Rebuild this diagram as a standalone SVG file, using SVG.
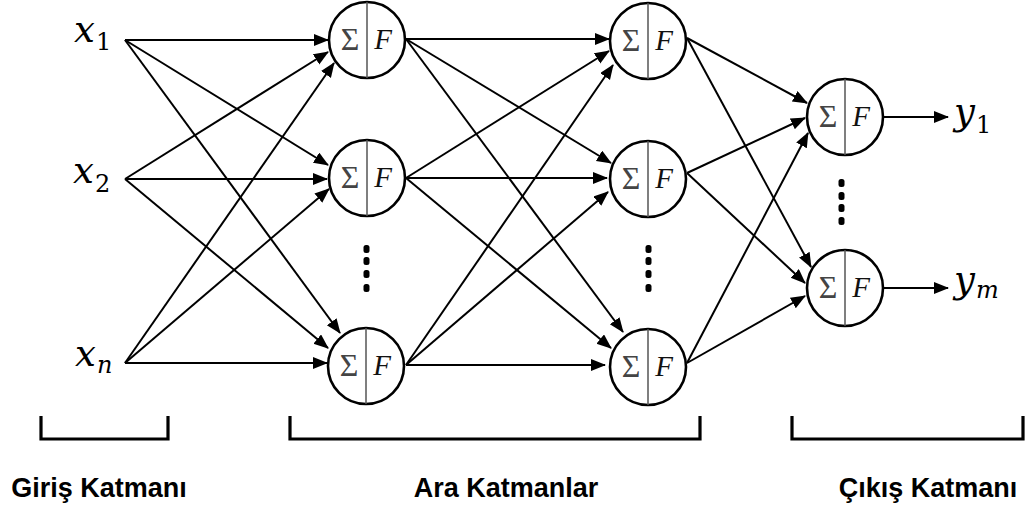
<svg xmlns="http://www.w3.org/2000/svg" width="1026" height="510" viewBox="0 0 1026 510">
  <style>
    .node circle { fill: #fff; stroke: #000; stroke-width: 2.6; }
    .node line { stroke: #555; stroke-width: 1.5; }
    .sig { font-family: "Liberation Serif", serif; font-size: 32px; fill: #444; text-anchor: middle; }
    .fn { font-family: "Liberation Serif", serif; font-size: 29px; font-style: italic; fill: #111; text-anchor: middle; }
    .var { font-family: "DejaVu Serif", serif; font-size: 37px; font-style: italic; fill: #000; }
    .sub { font-size: 24px; }
    .subn { font-style: normal; }
    #edges line { stroke: #000; stroke-width: 2; marker-end: url(#arrow); }
    .dots rect { fill: #000; }
    .bracket { fill: none; stroke: #000; stroke-width: 3.2; }
    .caption { font-family: "Liberation Sans", Arial, sans-serif; font-weight: bold; font-size: 27px; fill: #000; text-anchor: middle; }
  </style>
  <defs>
    <marker id="arrow" markerUnits="userSpaceOnUse" markerWidth="16" markerHeight="14" refX="14" refY="6" orient="auto">
      <path d="M0,0 L15,6 L0,12 Z" fill="#000"/>
    </marker>
  </defs>

  <rect width="1026" height="510" fill="#fff"/>

  <!-- connectors -->
  <g id="edges">
    <!-- inputs to first hidden layer -->
    <line x1="125" y1="40" x2="328" y2="40"/>
    <line x1="125" y1="40" x2="328" y2="165"/>
    <line x1="125" y1="40" x2="340" y2="333"/>
    <line x1="125" y1="179" x2="328" y2="52"/>
    <line x1="125" y1="179" x2="327" y2="179"/>
    <line x1="125" y1="179" x2="328" y2="348"/>
    <line x1="125" y1="363" x2="334" y2="63"/>
    <line x1="125" y1="363" x2="329" y2="189"/>
    <line x1="125" y1="363" x2="327" y2="363"/>
    <!-- first hidden layer to second hidden layer -->
    <line x1="406" y1="39" x2="609" y2="39"/>
    <line x1="406" y1="39" x2="611" y2="163"/>
    <line x1="406" y1="39" x2="623" y2="332"/>
    <line x1="406" y1="178" x2="609" y2="51"/>
    <line x1="406" y1="178" x2="607" y2="178"/>
    <line x1="406" y1="178" x2="611" y2="348"/>
    <line x1="406" y1="365" x2="613" y2="65"/>
    <line x1="406" y1="365" x2="608" y2="192"/>
    <line x1="406" y1="365" x2="605" y2="365"/>
    <!-- second hidden layer to output layer -->
    <line x1="687" y1="38" x2="807" y2="103"/>
    <line x1="687" y1="38" x2="811" y2="267"/>
    <line x1="687" y1="173" x2="805" y2="118"/>
    <line x1="687" y1="173" x2="805" y2="283"/>
    <line x1="687" y1="363" x2="808" y2="133"/>
    <line x1="687" y1="363" x2="805" y2="296"/>
    <!-- outputs -->
    <line x1="883" y1="117" x2="948" y2="117"/>
    <line x1="883" y1="288" x2="948" y2="288"/>
  </g>

  <!-- input labels -->
  <g id="in-x1"><text class="var" x="74" y="42">x<tspan class="sub subn" dx="1" dy="8">1</tspan></text></g>
  <g id="in-x2"><text class="var" x="73" y="183">x<tspan class="sub subn" dx="1" dy="9">2</tspan></text></g>
  <g id="in-xn"><text class="var" x="75" y="366">x<tspan class="sub" dx="1" dy="7">n</tspan></text></g>

  <!-- first hidden layer -->
  <g id="h1-1" class="node"><circle cx="367" cy="40" r="38"/><line x1="367" y1="2" x2="367" y2="78"/><text class="sig" x="350" y="50">Σ</text><text class="fn" x="383" y="49">F</text></g>
  <g id="h1-2" class="node"><circle cx="367" cy="178" r="38"/><line x1="367" y1="140" x2="367" y2="216"/><text class="sig" x="350" y="188">Σ</text><text class="fn" x="383" y="187">F</text></g>
  <g id="h1-n" class="node"><circle cx="366" cy="366" r="38"/><line x1="366" y1="328" x2="366" y2="404"/><text class="sig" x="349" y="376">Σ</text><text class="fn" x="382" y="375">F</text></g>

  <!-- second hidden layer -->
  <g id="h2-1" class="node"><circle cx="648" cy="41" r="38"/><line x1="648" y1="3" x2="648" y2="79"/><text class="sig" x="631" y="51">Σ</text><text class="fn" x="664" y="50">F</text></g>
  <g id="h2-2" class="node"><circle cx="648" cy="179" r="38"/><line x1="648" y1="141" x2="648" y2="217"/><text class="sig" x="631" y="189">Σ</text><text class="fn" x="664" y="188">F</text></g>
  <g id="h2-n" class="node"><circle cx="648" cy="367" r="38"/><line x1="648" y1="329" x2="648" y2="405"/><text class="sig" x="631" y="377">Σ</text><text class="fn" x="664" y="376">F</text></g>

  <!-- output layer -->
  <g id="out-1" class="node"><circle cx="845" cy="117" r="38"/><line x1="845" y1="79" x2="845" y2="155"/><text class="sig" x="828" y="127">Σ</text><text class="fn" x="861" y="126">F</text></g>
  <g id="out-m" class="node"><circle cx="845" cy="288" r="38"/><line x1="845" y1="250" x2="845" y2="326"/><text class="sig" x="828" y="298">Σ</text><text class="fn" x="861" y="297">F</text></g>

  <!-- output labels -->
  <g id="lbl-y1"><text class="var" x="954" y="124">y<tspan class="sub subn" dx="1" dy="9">1</tspan></text></g>
  <g id="lbl-ym"><text class="var" x="954" y="292">y<tspan class="sub" dx="1" dy="6">m</tspan></text></g>

  <!-- vertical ellipses -->
  <g class="dots">
    <rect x="363.5" y="245" width="6" height="8" rx="2.5"/>
    <rect x="363.5" y="257" width="6" height="8" rx="2.5"/>
    <rect x="363.5" y="270" width="6" height="8" rx="2.5"/>
    <rect x="363.5" y="284" width="6" height="8" rx="2.5"/>
    <rect x="645.5" y="245" width="6" height="8" rx="2.5"/>
    <rect x="645.5" y="257" width="6" height="8" rx="2.5"/>
    <rect x="645.5" y="270" width="6" height="8" rx="2.5"/>
    <rect x="645.5" y="284" width="6" height="8" rx="2.5"/>
    <rect x="838.5" y="179" width="6" height="8" rx="2.5"/>
    <rect x="838.5" y="192" width="6" height="8" rx="2.5"/>
    <rect x="838.5" y="204" width="6" height="8" rx="2.5"/>
    <rect x="838.5" y="217" width="6" height="8" rx="2.5"/>
  </g>

  <!-- layer brackets and captions -->
  <path class="bracket" d="M41,416 V439 H168 V416"/>
  <path class="bracket" d="M290,416 V439 H700 V416"/>
  <path class="bracket" d="M792,416 V439 H1023 V416"/>
  <text class="caption" x="99" y="497">Giriş Katmanı</text>
  <text class="caption" x="506" y="497">Ara Katmanlar</text>
  <text class="caption" x="928" y="497">Çıkış Katmanı</text>
</svg>
